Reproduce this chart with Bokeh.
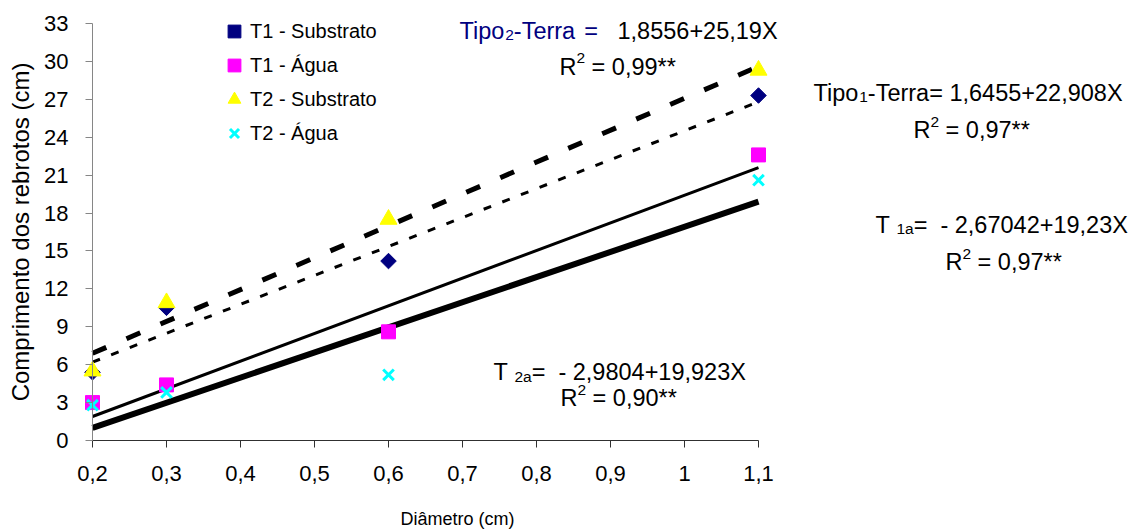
import math
from bokeh.plotting import figure
from bokeh.models import (Range1d, FixedTicker, CustomJSTickFormatter, Label,
                          Legend, LegendItem)
from bokeh.embed import file_html
from bokeh.resources import INLINE

# ---------------- data ----------------
diametro = [0.2, 0.3, 0.6, 1.1]
t1_substrato = [5.4, 10.5, 14.2, 27.3]
t1_agua = [3.0, 4.4, 8.6, 22.6]
t2_substrato = [5.5, 10.9, 17.5, 29.3]
t2_agua = [2.8, 3.8, 5.2, 20.6]

trend_x = [0.2, 1.1]
trend_t1_substrato = [6.2, 26.8]
trend_t1_agua = [1.9, 21.6]
trend_t2_substrato = [6.9, 29.6]
trend_t2_agua = [1.0, 18.9]

series_names = ["T1 - Substrato", "T1 - Água", "T2 - Substrato", "T2 - Água"]
x_ticks = [0.2, 0.3, 0.4, 0.5, 0.6, 0.7, 0.8, 0.9, 1.0, 1.1]
y_ticks = [0, 3, 6, 9, 12, 15, 18, 21, 24, 27, 30, 33]
x_title = "Diâmetro (cm)"
y_title = "Comprimento dos rebrotos (cm)"

# ---------------- layout (frame = whole canvas, axes at fixed locations) ----------------
W, H = 1147, 531
X_PX0, X_PPU = 92.0, 740.0           # pixel of x=0.2, pixels per unit x
Y_PX0, Y_PX33 = 440.0, 23.0          # pixel of y=0 and y=33
Y_PPU = (Y_PX0 - Y_PX33) / 33.0
x_start = 0.2 - X_PX0 / X_PPU
x_end = 0.2 + (W - X_PX0) / X_PPU
y_start = -(H - Y_PX0) / Y_PPU
y_end = Y_PX0 / Y_PPU

def to_data(px, py):
    return (0.2 + (px - X_PX0) / X_PPU, (Y_PX0 - py) / Y_PPU)

FONT = "Liberation Sans"
NAVY = "#000080"

p = figure(width=W, height=H, title=None,
           x_range=Range1d(x_start, x_end), y_range=Range1d(y_start, y_end),
           min_border_left=0, min_border_right=0, min_border_top=0, min_border_bottom=0,
           toolbar_location=None, output_backend="svg")
p.outline_line_color = None
p.xgrid.visible = False
p.ygrid.visible = False
p.background_fill_color = "white"
p.border_fill_color = "white"

fmt = CustomJSTickFormatter(code="var s = (Math.round(tick*10)/10).toString(); return s.replace('.', ',');")

xa = p.xaxis[0]
xa.ticker = FixedTicker(ticks=x_ticks)
xa.formatter = fmt
xa.bounds = (0.2, 1.1)
xa.fixed_location = 0
xa.axis_line_color = "#303030"
xa.major_tick_line_color = "#303030"
xa.major_tick_out = 7
xa.major_tick_in = 0
xa.minor_tick_line_color = None
xa.major_label_text_font = FONT
xa.major_label_text_font_size = "22px"
xa.major_label_text_color = "black"
xa.major_label_standoff = 18

ya = p.yaxis[0]
ya.ticker = FixedTicker(ticks=y_ticks)
ya.formatter = fmt
ya.bounds = (0, 33)
ya.fixed_location = 0.2
ya.axis_line_color = "#868686"
ya.major_tick_line_color = "#868686"
ya.major_tick_out = 7
ya.major_tick_in = 0
ya.minor_tick_line_color = None
ya.major_label_text_font = FONT
ya.major_label_text_font_size = "22px"
ya.major_label_text_color = "black"
ya.major_label_standoff = 17
ya.axis_label = y_title
ya.axis_label_text_font = FONT
ya.axis_label_text_font_size = "24px"
ya.axis_label_text_font_style = "normal"
ya.axis_label_text_color = "black"
ya.axis_label_standoff = 7

# x-axis title, centred under the chart area as in the reference
tx, ty = to_data(457, 518)
p.add_layout(Label(x=tx, y=ty, text=x_title, text_font=FONT, text_font_size="18px",
                   text_color="black", text_align="center", text_baseline="alphabetic"))

# ---------------- trend lines ----------------
p.line(trend_x, trend_t2_substrato, line_color="black", line_width=5, line_dash="15 22")
p.line(trend_x, trend_t1_substrato, line_color="black", line_width=3, line_dash="8 12")
p.line(trend_x, trend_t1_agua, line_color="black", line_width=3)
p.line(trend_x, trend_t2_agua, line_color="black", line_width=6)

# ---------------- points ----------------
r1 = p.scatter(diametro, t1_substrato, marker="square", angle=math.pi / 4, size=11,
               fill_color=NAVY, line_color=NAVY)
r2 = p.scatter(diametro, t1_agua, marker="square", size=14,
               fill_color="#FF00FF", line_color="#FF00FF")
r3 = p.scatter(diametro, t2_substrato, marker="triangle", size=17,
               fill_color="#FFFF00", line_color="#FFFF00")
r4 = p.scatter(diametro, t2_agua, marker="x", size=15,
               line_color="#00FFFF", line_width=3)

# legend: glyph box 32 -> marker size ~13; rows 34 px apart, first row centred at y=31
legend = Legend(items=[LegendItem(label=series_names[0], renderers=[r1]),
                       LegendItem(label=series_names[1], renderers=[r2]),
                       LegendItem(label=series_names[2], renderers=[r3]),
                       LegendItem(label=series_names[3], renderers=[r4])],
                location=(218, H - 149), orientation="vertical",
                glyph_width=32, glyph_height=32, label_height=32, spacing=2,
                label_standoff=-3, padding=0, margin=0,
                border_line_color=None, background_fill_alpha=0,
                label_text_font=FONT, label_text_font_size="20px",
                label_text_color="black")
p.add_layout(legend)

# ---------------- equations (with sub/superscripts) ----------------
ADV = {' ': 278, '*': 389, '+': 584, ',': 278, '-': 333, '=': 584, 'R': 722,
       'T': 611, 'X': 667, 'a': 556, 'e': 556, 'i': 222, 'o': 556, 'p': 556, 'r': 333}
for d in "0123456789":
    ADV[d] = 556

def adv(s, size):
    return sum(ADV.get(c, 556) for c in s) / 1000.0 * size

MAIN, SMALL = 23.5, 15.5
SHIFT = {"main": 0.0, "sub": 4.0, "sup": -8.5}

equations = [
    (459, 30.0, [("Tipo", "main", NAVY), ("2", "sub", NAVY), ("-Terra", "main", NAVY),
                 (" =", "main", NAVY)]),
    (617, 30.0, [("1,8556+25,19X", "main", "black")]),
    (559, 66.0, [("R", "main", "black"), ("2", "sup", "black"), (" = 0,99**", "main", "black")]),
    (813, 92.0, [("Tipo", "main", "black"), ("1", "sub", "black"),
                 ("-Terra= 1,6455+22,908X", "main", "black")]),
    (913, 129.5, [("R", "main", "black"), ("2", "sup", "black"), (" = 0,97**", "main", "black")]),
    (875, 224.0, [("T ", "main", "black"), ("1a", "sub", "black"), ("=", "main", "black"),
                  ("  - 2,67042+19,23X", "main", "black")]),
    (945, 261.5, [("R", "main", "black"), ("2", "sup", "black"), (" = 0,97**", "main", "black")]),
    (493, 371.5, [("T ", "main", "black"), ("2a", "sub", "black"), ("=", "main", "black"),
                  ("  - 2,9804+19,923X", "main", "black")]),
    (560, 397.5, [("R", "main", "black"), ("2", "sup", "black"), (" = 0,90**", "main", "black")]),
]

for x0, base, parts in equations:
    cx = x0
    for txt, kind, col in parts:
        size = MAIN if kind == "main" else SMALL
        lead = len(txt) - len(txt.lstrip(" "))
        cx += adv(" " * lead, size)
        body = txt.strip(" ")
        lx, ly = to_data(cx, base + SHIFT[kind])
        p.add_layout(Label(x=lx, y=ly, text=body, text_font=FONT,
                           text_font_size=f"{size}px", text_color=col,
                           text_align="left", text_baseline="alphabetic"))
        cx += adv(txt.lstrip(" "), size)

open("out.html", "w").write(file_html(p, INLINE))
